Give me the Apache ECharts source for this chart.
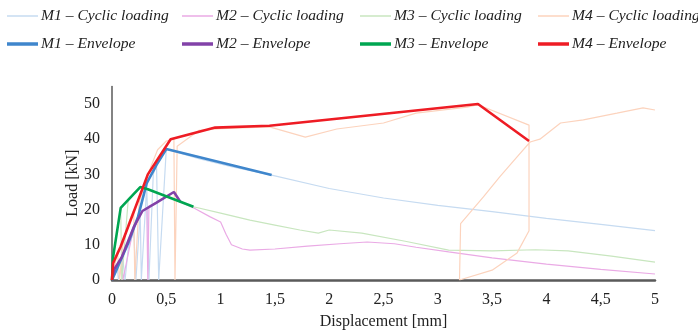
<!DOCTYPE html>
<html><head><meta charset="utf-8">
<script src="https://cdn.jsdelivr.net/npm/echarts@6/dist/echarts.min.js"></script>
<style>html,body{margin:0;padding:0;background:#fff}#c{width:698px;height:336px}</style>
</head><body><div id="c"></div>
<script>
// Data: [displacement mm, load kN]
const xTicks = [0, 0.5, 1, 1.5, 2, 2.5, 3, 3.5, 4, 4.5, 5];
const yTicks = [0, 10, 20, 30, 40, 50];
const seriesNames = ['M1 – Cyclic loading','M2 – Cyclic loading','M3 – Cyclic loading','M4 – Cyclic loading',
                     'M1 – Envelope','M2 – Envelope','M3 – Envelope','M4 – Envelope'];
const m1Cyclic = [[0,0],[0.05,3],[0.06,0],[0.1,6],[0.12,0],[0.15,9],[0.2,14],[0.22,0],[0.26,19],[0.27,0],[0.32,27],[0.34,0],[0.38,30],[0.41,32.7],[0.43,0],[0.5,37.2],[0.8,34.5],[1.1,32.2],[1.47,29.8],[2,26],[2.5,23.3],[3,21.2],[3.5,19.4],[4,17.5],[4.5,15.8],[5,14]];
const m2Cyclic = [[0,0],[0.09,6.5],[0.1,0],[0.2,15],[0.28,19.6],[0.32,20.5],[0.33,0],[0.34,21],[0.41,22],[0.57,25],[0.63,22.2],[0.75,20.5],[0.9,18],[1.0,16.5],[1.05,13],[1.1,10],[1.2,8.8],[1.27,8.5],[1.5,8.8],[1.8,9.6],[2.1,10.3],[2.35,10.8],[2.6,10.3],[2.8,9.3],[3.1,8],[3.5,6.3],[4,4.5],[4.5,3],[5,1.7]];
const m3Cyclic = [[0,0],[0.01,6.5],[0.08,20.5],[0.09,0],[0.15,23],[0.26,26.4],[0.33,25.8],[0.75,20.8],[1,19],[1.27,17],[1.5,15.6],[1.73,14.2],[1.9,13.3],[2,14.2],[2.3,13.3],[2.7,11],[3.1,8.5],[3.5,8.3],[3.9,8.6],[4.2,8.3],[4.6,6.8],[5,5.1]];
const m4Cyclic = [[0,0],[0.05,8],[0.07,0],[0.1,10],[0.15,16],[0.2,20],[0.21,0],[0.25,22],[0.33,30],[0.42,37],[0.5,39.5],[0.57,40],[0.58,0],[0.6,38],[0.8,42.5],[1,43],[1.45,43.5],[1.78,40.6],[2.07,42.9],[2.5,44.6],[2.8,47.4],[3.27,49.1],[3.37,49.8],[3.84,44],[3.84,14],[3.73,7.7],[3.5,2.8],[3.2,0],[3.21,16],[3.42,23.6],[3.57,29.3],[3.73,35],[3.85,39.2],[3.94,40],[4.13,44.6],[4.34,45.5],[4.65,47.4],[4.89,48.9],[5,48.3]];
const m1Envelope = [[0,0],[0.06,4.2],[0.15,10.5],[0.24,18],[0.32,27.5],[0.41,32.7],[0.5,37.2],[1.47,29.8]];
const m2Envelope = [[0,0],[0.02,3],[0.09,6.5],[0.2,15],[0.28,19.6],[0.41,22],[0.57,25],[0.63,22.2]];
const m3Envelope = [[0,0],[0.01,6.5],[0.08,20.5],[0.26,26.4],[0.33,25.8],[0.75,20.8]];
const m4Envelope = [[0,0],[0.01,4.8],[0.08,9.5],[0.33,30],[0.54,40],[0.95,43.3],[1.45,43.8],[3.37,50],[3.84,39.5]];

const colors = ['#c6dbf1','#eaaae5','#c8e6bf','#fcd3bd','#3f86cc','#8242a8','#00a651','#ee1c24'];
const datas = [m1Cyclic,m2Cyclic,m3Cyclic,m4Cyclic,m1Envelope,m2Envelope,m3Envelope,m4Envelope];
const serif = '"Liberation Serif","DejaVu Serif",serif';

const series = datas.map((d,i)=>({
  name: seriesNames[i], type:'line', data:d, showSymbol:false, symbol:'none',
  lineStyle:{color:colors[i], width: i<4 ? 1.2 : 2.6},
  itemStyle:{color:colors[i]}, z: i<4 ? 2 : 5, animation:false
}));

const colX = [7,182,360,538];
const legends = seriesNames.map((n,i)=>({
  data:[n], left: colX[i%4], top: i<4 ? 8 : 36, icon:'rect', padding:0,
  itemWidth: 31, itemHeight: i<4 ? 1.5 : 3.5, itemGap: 0,
  textStyle:{fontFamily:serif, fontStyle:'italic', fontSize:15.6, color:'#222', padding:[0,0,0,-2]},
  selectedMode:false
}));

const chart = echarts.init(document.getElementById('c'), null, {renderer:'canvas'});
chart.setOption({
  animation:false,
  backgroundColor:'#fff',
  legend: legends,
  grid:{left:112, right:43, top:86.4, bottom:56, containLabel:false},
  xAxis:{type:'value', min:0, max:5, interval:0.5,
    name:'Displacement [mm]', nameLocation:'middle', nameGap:34, nameMoveOverlap:false,
    nameTextStyle:{fontFamily:serif, fontSize:16, color:'#222'},
    axisLine:{show:true, lineStyle:{color:'#5a5a5a', width:2.5}},
    axisTick:{show:false}, splitLine:{show:false},
    axisLabel:{fontFamily:serif, fontSize:16, color:'#222', margin:12,
      formatter:v=>String(v).replace('.',',')}},
  yAxis:{type:'value', min:0, max:55, interval:10,
    name:'Load [kN]', nameLocation:'middle', nameGap:31, nameMoveOverlap:false,
    nameTextStyle:{fontFamily:serif, fontSize:16, color:'#222'},
    axisLine:{show:true, lineStyle:{color:'#5a5a5a', width:1.5}},
    axisTick:{show:false}, splitLine:{show:false},
    axisLabel:{fontFamily:serif, fontSize:16, color:'#222', margin:12, showMaxLabel:false,
      formatter:v=> yTicks.includes(v) ? String(v) : ''}},
  series: series
});
</script></body></html>
